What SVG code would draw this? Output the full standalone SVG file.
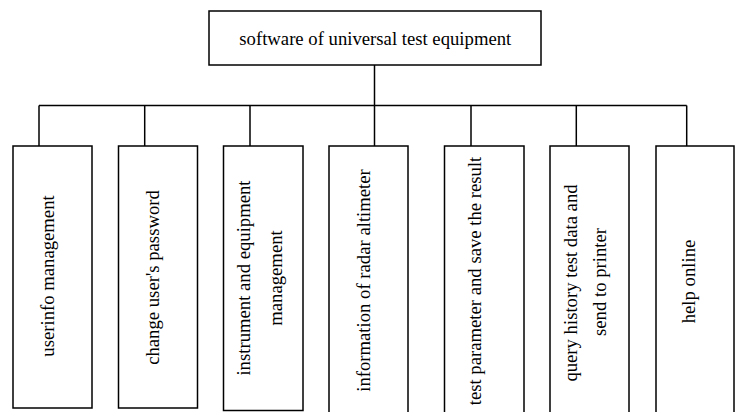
<svg xmlns="http://www.w3.org/2000/svg" width="739" height="412" viewBox="0 0 739 412">
  <style>
    .box { fill: #ffffff; stroke: #000000; stroke-width: 1.5; }
    .wire { fill: none; stroke: #000000; stroke-width: 1.5; }
    .lbl { font-family: "Liberation Serif", "Times New Roman", serif; font-size: 18.7px; fill: #000000; text-anchor: middle; }
  </style>
  <rect width="739" height="412" fill="#ffffff"/>

  <!-- tree connectors: trunk, bus and drops -->
  <g id="connectors">
    <path class="wire" d="M374.5 65 V105.5"/>
    <path class="wire" d="M39 105.5 H686.7"/>
    <path class="wire" d="M39 105.5 V146"/>
    <path class="wire" d="M144.7 105.5 V146"/>
    <path class="wire" d="M250 105.5 V146"/>
    <path class="wire" d="M374.5 105.5 V146"/>
    <path class="wire" d="M471 105.5 V146"/>
    <path class="wire" d="M576.3 105.5 V146"/>
    <path class="wire" d="M686.7 105.5 V146"/>
  </g>

  <g id="root">
    <rect class="box" x="209" y="11" width="332" height="54"/>
    <text class="lbl" x="375.3" y="45">software of universal test equipment</text>
  </g>

  <g id="userinfo">
    <rect class="box" x="13" y="146" width="79" height="262"/>
    <text class="lbl" transform="translate(54.4 276) rotate(-90)">userinfo management</text>
  </g>

  <g id="password">
    <rect class="box" x="118.5" y="146" width="79" height="262"/>
    <text class="lbl" transform="translate(158.6 277.5) rotate(-90)">change user's password</text>
  </g>

  <g id="instrument">
    <rect class="box" x="223.5" y="146" width="79.5" height="264.5"/>
    <text class="lbl" transform="translate(250.4 278) rotate(-90)">instrument and equipment</text>
    <text class="lbl" transform="translate(282.2 278) rotate(-90)">management</text>
  </g>

  <g id="altimeter">
    <rect class="box" x="329" y="146" width="79" height="272"/>
    <text class="lbl" transform="translate(370.4 280.5) rotate(-90)">information of radar altimeter</text>
  </g>

  <g id="test">
    <rect class="box" x="444.5" y="146" width="79.5" height="272"/>
    <text class="lbl" transform="translate(480.5 281) rotate(-90)">test parameter and save the result</text>
  </g>

  <g id="history">
    <rect class="box" x="550" y="146" width="79" height="272"/>
    <text class="lbl" transform="translate(577.4 283) rotate(-90)">query history test data and</text>
    <text class="lbl" transform="translate(606 282) rotate(-90)">send to printer</text>
  </g>

  <g id="help">
    <rect class="box" x="656" y="146" width="78" height="272"/>
    <text class="lbl" transform="translate(695 281.5) rotate(-90)">help online</text>
  </g>
</svg>
